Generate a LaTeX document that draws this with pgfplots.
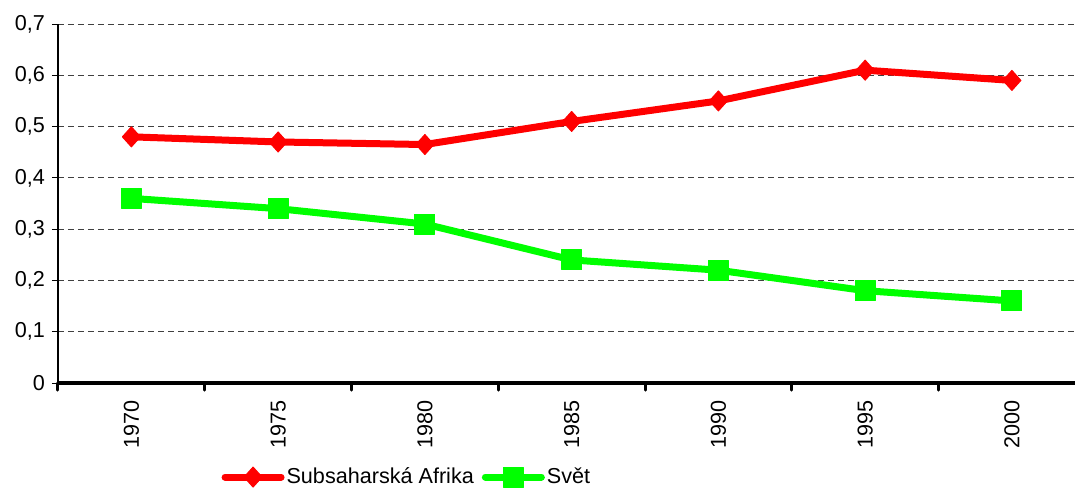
\documentclass[border=0pt]{standalone}
\usepackage{pgfplots}
\pgfplotsset{compat=1.18}
\usepackage{fontspec}
\setmainfont{Liberation Sans}
\definecolor{cred}{RGB}{255,0,0}
\definecolor{cgreen}{RGB}{0,255,0}
\begin{document}
\begin{tikzpicture}
\useasboundingbox (-29pt,-53pt) rectangle (508.5pt,191.5pt);
\begin{axis}[
  at={(0pt,0pt)}, anchor=south west,
  scale only axis, width=508.5pt, height=179.5pt,
  xmin=-0.5, xmax=6.43, ymin=0, ymax=0.7,
  axis lines*=left,
  x axis line style={line width=2pt, -},
  y axis line style={line width=0.6pt, -},
  ytick={0,0.1,0.2,0.3,0.4,0.5,0.6,0.7},
  yticklabel style={/pgf/number format/.cd, use comma, fixed, precision=1, assume math mode=true},
  xtick={0,1,2,3,4,5,6},
  xticklabels={1970,1975,1980,1985,1990,1995,2000},
  minor xtick={-0.5,0.5,1.5,2.5,3.5,4.5,5.5},
  tick align=outside,
  major tick length=3pt,
  minor tick length=3.5pt,
  major x tick style={draw=none},
  minor x tick style={line width=1.5pt, black, line cap=round},
  ytick style={black, line width=0.5pt},
  every tick label/.append style={font=\fontsize{10.8}{12}\selectfont},
  xticklabel style={rotate=90, anchor=east},
  xticklabel shift={2pt},
  ymajorgrids,
  grid style={dash pattern=on 3pt off 2pt, black!75, line width=0.5pt},
  legend columns=2,
  legend style={draw=none, fill=none, at={(0.343,-0.262)}, anchor=center,
    font=\fontsize{10.8}{12}\selectfont, inner xsep=0pt, inner ysep=0pt,
    nodes={inner xsep=1pt, inner ysep=1pt},
    /tikz/every even column/.append style={column sep=3pt}},
  legend image code/.code={\draw[mark repeat=2, mark phase=2, #1, line cap=round] plot coordinates {(0pt,0pt) (14pt,0pt) (28pt,0pt)};},
  clip=false,
]
\addplot[cred, line width=3.5pt, line join=round, mark=diamond*, mark size=5pt, mark options={solid, line width=0.5pt, xscale=1.2}]
  coordinates {(0,0.48) (1,0.47) (2,0.465) (3,0.51) (4,0.55) (5,0.61) (6,0.59)};
\addlegendentry{Subsaharská Afrika}
\addplot[cgreen, line width=3.5pt, line join=round, mark=square*, mark size=5pt, mark options={solid, line width=0.5pt}]
  coordinates {(0,0.36) (1,0.34) (2,0.31) (3,0.24) (4,0.22) (5,0.18) (6,0.16)};
\addlegendentry{Svět}
\end{axis}
\end{tikzpicture}
\end{document}
